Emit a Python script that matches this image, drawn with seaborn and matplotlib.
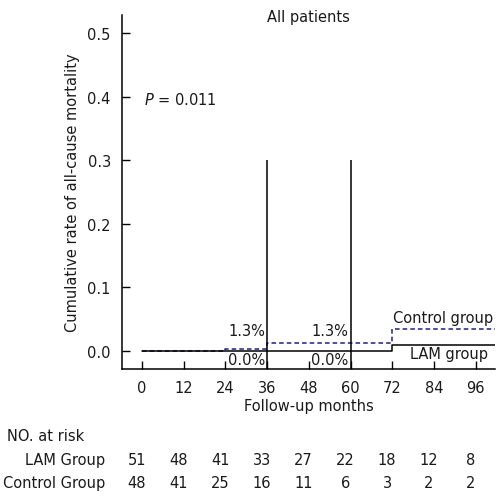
import numpy as np
import pandas as pd
import matplotlib
matplotlib.use("Agg")
import matplotlib.pyplot as plt
import matplotlib.transforms as mtransforms
import seaborn as sns

# step data (cumulative mortality)
lam_months = [0, 24, 36, 60, 72, 101.5]
lam_rate = [0.0, 0.0, 0.0, 0.0, 0.010, 0.010]
ctrl_months = [0, 24, 36, 60, 72, 101.5]
ctrl_rate = [0.0, 0.004, 0.013, 0.013, 0.035, 0.035]

tick_months = [0, 12, 24, 36, 48, 60, 72, 84, 96]
lam_at_risk = [51, 48, 41, 33, 27, 22, 18, 12, 8]
ctrl_at_risk = [48, 41, 25, 16, 11, 6, 3, 2, 2]

landmarks = [36, 60]
lam_pct = ["0.0%", "0.0%"]
ctrl_pct = ["1.3%", "1.3%"]

df = pd.concat([
    pd.DataFrame({"month": ctrl_months, "rate": ctrl_rate, "group": "Control group"}),
    pd.DataFrame({"month": lam_months, "rate": lam_rate, "group": "LAM group"}),
])

sns.set_theme(style="ticks")
plt.rcParams['font.family'] = ['DejaVu Sans']
fs = 10.5
tc = "#1a1a1a"

fig = plt.figure(figsize=(5.02, 5.02), dpi=100)
ax = fig.add_axes([0.243, 0.263, 0.743, 0.705])

sns.lineplot(data=df, x="month", y="rate", hue="group", style="group",
             hue_order=["Control group", "LAM group"],
             palette={"LAM group": "black", "Control group": "#1c1c8c"},
             dashes={"LAM group": "", "Control group": (3, 2)},
             drawstyle="steps-post", linewidth=1.1, legend=False, ax=ax,
             estimator=None)
# solid LAM line on top of the dashed one
for line in ax.get_lines():
    if line.get_color() in ("black", "k", "#000000"):
        line.set_zorder(5)

ax.set_xlim(-5.7, 101.5)
ax.set_ylim(-0.028, 0.528)
for lm in landmarks:
    ax.vlines(lm, -0.028, 0.3, color="black", linewidth=1.1, zorder=6)

for lm, c, l in zip(landmarks, ctrl_pct, lam_pct):
    ax.text(lm - 0.6, 0.033, c, ha="right", va="center", fontsize=fs, color=tc)
    ax.text(lm - 0.6, -0.013, l, ha="right", va="center", fontsize=fs, color=tc)

ax.text(72.3, 0.053, "Control group", ha="left", va="center", fontsize=fs, color=tc)
ax.text(88.3, -0.003, "LAM group", ha="center", va="center", fontsize=fs, color=tc)
ax.text(0.6, 0.396, "$P$ = 0.011", ha="left", va="center", fontsize=fs, color=tc)

ax.set_xticks(tick_months)
ax.set_yticks([0, 0.1, 0.2, 0.3, 0.4, 0.5])
ax.set_yticklabels([f"{v:.1f}" for v in [0, 0.1, 0.2, 0.3, 0.4, 0.5]])
ax.tick_params(direction="in", length=6, width=1, labelsize=fs, colors="black",
               labelcolor=tc, pad=8)
for s in ["top", "right"]:
    ax.spines[s].set_visible(False)
for s in ["left", "bottom"]:
    ax.spines[s].set_linewidth(1.1)
    ax.spines[s].set_color("black")

ax.set_xlabel("Follow-up months", fontsize=fs, color=tc, labelpad=2)
ax.set_ylabel("Cumulative rate of all-cause mortality", fontsize=fs, color=tc, labelpad=5)
ax.set_title("All patients", fontsize=fs, color=tc, y=0.96)

# number at risk table
trans = mtransforms.blended_transform_factory(ax.transData, fig.transFigure)
fig.text(7 / 502, 1 - 437 / 502, "NO. at risk", ha="left", va="center", fontsize=fs, color=tc)
fig.text(105 / 502, 1 - 461 / 502, "LAM Group", ha="right", va="center", fontsize=fs, color=tc)
fig.text(105 / 502, 1 - 484 / 502, "Control Group", ha="right", va="center", fontsize=fs, color=tc)
for m, a, b in zip(tick_months, lam_at_risk, ctrl_at_risk):
    ax.text(m - 1.5, 1 - 461 / 502, str(a), ha="center", va="center", fontsize=fs,
            color=tc, transform=trans, clip_on=False)
    ax.text(m - 1.5, 1 - 484 / 502, str(b), ha="center", va="center", fontsize=fs,
            color=tc, transform=trans, clip_on=False)

fig.savefig("out.png", dpi=100)
